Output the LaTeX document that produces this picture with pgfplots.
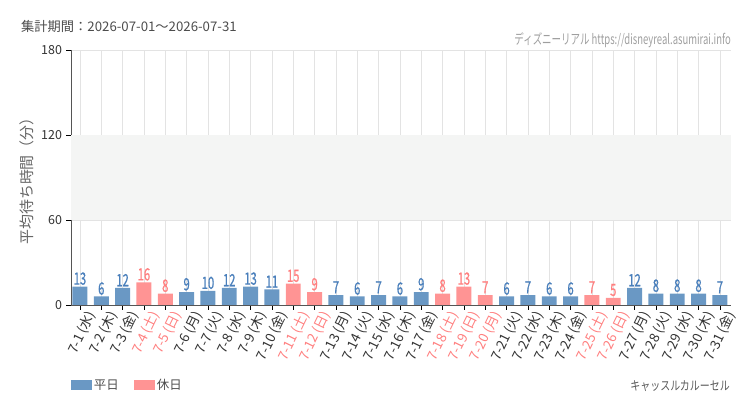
\documentclass[border=0pt]{standalone}
\usepackage{pgfplots}
\pgfplotsset{compat=1.18}
\usepackage{fontspec}
\setmainfont{Noto Sans CJK JP}
\newfontfamily\condfont[FakeStretch=0.68]{Noto Sans CJK JP}
\newfontfamily\numfont[FakeStretch=0.66, FakeBold=0.8]{Noto Sans CJK JP}
\newfontfamily\semicond[FakeStretch=0.8]{Noto Sans CJK JP}
\definecolor{wkbar}{HTML}{6A98C4}
\definecolor{hobar}{HTML}{FF9494}
\definecolor{wktxt}{HTML}{4A7FBB}
\definecolor{hotxt}{HTML}{FF7F7F}
\definecolor{band}{HTML}{F4F5F4}
\definecolor{gridc}{HTML}{E3E3E3}
\definecolor{axc}{HTML}{555555}
\newcommand\hol[1]{\textcolor{hotxt}{#1}}
\pgfplotsset{set layers}
\begin{document}
\begin{tikzpicture}
\begin{axis}[
  at={(0,0)}, anchor=south west,
  scale only axis, width=660bp, height=255bp,
  xmin=-0.42, xmax=30.52, ymin=0, ymax=180,
  ybar, bar width=0.7, bar shift=0pt,
  axis x line*=bottom, axis y line*=left,
  axis line style={axc, line width=0.8pt},
  tick pos=left, tick align=outside, major tick length=4.5bp,
  tick style={black, line width=0.8pt},
  xtick={0,...,30},
  ytick={0,60,120,180},
  grid=major, major grid style={gridc, line width=0.6pt},
  /pgf/number format/assume math mode=true,
  yticklabel style={font=\fontsize{12.5}{14}\selectfont, text=black!80, xshift=-1bp},
  xticklabel style={font=\fontsize{13.5}{15}\selectfont, text=black!80, rotate=64, anchor=east, inner sep=0pt, yshift=-12bp, xshift=3bp},
  xticklabels={7-1 (水),7-2 (木),7-3 (金),\hol{7-4 (土)},\hol{7-5 (日)},7-6 (月),7-7 (火),7-8 (水),7-9 (木),7-10 (金),\hol{7-11 (土)},\hol{7-12 (日)},7-13 (月),7-14 (火),7-15 (水),7-16 (木),7-17 (金),\hol{7-18 (土)},\hol{7-19 (日)},\hol{7-20 (月)},7-21 (火),7-22 (水),7-23 (木),7-24 (金),\hol{7-25 (土)},\hol{7-26 (日)},7-27 (月),7-28 (火),7-29 (水),7-30 (木),7-31 (金)},
  ylabel={平均待ち時間（分）},
  ylabel style={font=\fontsize{15}{17}\selectfont, text=black!60, at={(axis description cs:-0.0667,0.5)}, anchor=center},
  nodes near coords,
  nodes near coords style={font=\numfont\fontsize{17}{18}\selectfont, inner sep=1.5bp},
  legend columns=2,
  legend style={at={(rel axis cs:0,-0.314)}, anchor=west, draw=none, fill=none, inner sep=0pt, outer sep=0pt,
    font=\fontsize{12.5}{14}\selectfont, text=black!70,
    /tikz/every even column/.style={column sep=13bp}},
  legend image code/.code={\fill[#1] (0bp,-5bp) rectangle (21bp,5bp);},
]
\fill[band, on layer=axis background] (axis cs:-0.42,60) rectangle (axis cs:30.52,120);
\addplot[fill=wkbar, draw=none, nodes near coords style={text=wktxt}] coordinates {
(0,13) (1,6) (2,12) (5,9) (6,10) (7,12) (8,13) (9,11) (12,7) (13,6) (14,7) (15,6) (16,9)
(20,6) (21,7) (22,6) (23,6) (26,12) (27,8) (28,8) (29,8) (30,7)};
\addlegendentry{平日}
\addplot[fill=hobar, draw=none, nodes near coords style={text=hotxt}] coordinates {
(3,16) (4,8) (10,15) (11,9) (17,8) (18,13) (19,7) (24,7) (25,5)};
\addlegendentry{休日}
\end{axis}
\node[anchor=west, inner sep=0pt, font=\fontsize{13.3}{15}\selectfont, text=black!70] at (-50bp,279bp) {集計期間：2026-07-01～2026-07-31};
\node[anchor=east, inner sep=0pt, font=\condfont\fontsize{14}{15}\selectfont, text=black!38] at (660bp,265bp) {ディズニーリアル https://disneyreal.asumirai.info};
\node[anchor=east, inner sep=0pt, font=\semicond\fontsize{12.5}{14}\selectfont, text=black!65] at (659bp,-81bp) {キャッスルカルーセル};
\pgfresetboundingbox
\useasboundingbox (-71bp,-105bp) rectangle (679bp,305bp);
\end{tikzpicture}
\end{document}
